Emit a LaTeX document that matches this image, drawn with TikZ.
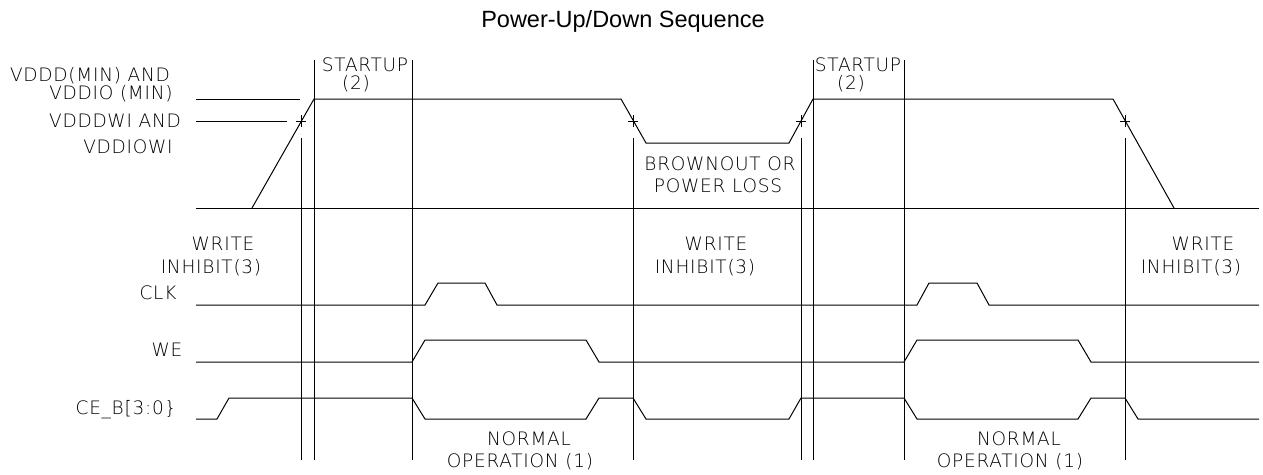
\documentclass[tikz,border=0pt]{standalone}
\usepackage{fontspec}
\setmainfont{Liberation Sans}
\IfFontExistsTF{DejaVu Sans ExtraLight}{\newfontfamily\cadfont[LetterSpace=4]{DejaVu Sans ExtraLight}}{\newfontfamily\cadfont{Liberation Sans}}
\begin{document}
\begin{tikzpicture}[x=1pt,y=-1pt,
  sig/.style={line width=1pt, line join=miter},
  vline/.style={line width=1pt},
  lab/.style={font=\cadfont\fontsize{18.5}{21}\selectfont, inner sep=0pt, text height=13.5pt, text depth=0pt, anchor=center},
  ttl/.style={font=\fontsize{23.5}{28}\selectfont, inner sep=0pt, text height=16pt, text depth=0pt, anchor=center}]
\useasboundingbox (0,0) rectangle (1263,474);
\node[ttl] (title) at (623,19) {Power-Up/Down Sequence};

% supply levels
\draw[sig] (196,99) -- (300,99);
\draw[sig] (196,121) -- (287,121);
\draw[sig] (196,208) -- (1259,208);
\draw[sig] (252,208) -- (314,99) -- (621,99) -- (646,143) -- (789,143) -- (813,99) -- (1113,99) -- (1174,208);
\foreach \cx in {301,633,801,1125}{
  \draw[sig] (\cx-5,121) -- (\cx+5,121) (\cx,115) -- (\cx,127);
  \draw[vline] (\cx,138) -- (\cx,460);
}
\foreach \cx in {314,412,813,904}{
  \draw[vline] (\cx,60) -- (\cx,460);
}

% CLK
\draw[sig] (196,305) -- (425,305) -- (438,283) -- (485,283) -- (497,305) -- (917,305) -- (929,283) -- (977,283) -- (989,305) -- (1259,305);
% WE
\draw[sig] (196,362) -- (412,362) -- (425,340) -- (586,340) -- (599,362) -- (904,362) -- (917,340) -- (1078,340) -- (1091,362) -- (1259,362);
% CE_B
\draw[sig] (196,419) -- (217,419) -- (229,398) -- (412,398) -- (425,419) -- (586,419) -- (599,398) -- (633,398) -- (646,419) -- (789,419) -- (801,398) -- (904,398) -- (917,419) -- (1078,419) -- (1091,398) -- (1125,398) -- (1138,419) -- (1259,419);

% labels
\node[lab] (l1) at (90,75) {VDDD(MIN) AND};
\node[lab] (l2) at (111,93) {VDDIO (MIN)};
\node[lab] (l3) at (115,121) {VDDDWI AND};
\node[lab] (l4) at (128,147) {VDDIOWI};
\node[lab] (s1) at (365,65) {STARTUP};
\node[lab] (s1b) at (356,83) {(2)};
\node[lab] (s2) at (858,65) {STARTUP};
\node[lab] (s2b) at (851,83) {(2)};
\node[lab] (b1) at (720,164) {BROWNOUT OR};
\node[lab] (b2) at (718,186) {POWER LOSS};
\node[lab] (w1) at (223,244) {WRITE};
\node[lab] (w1b) at (211,267) {INHIBIT(3)};
\node[lab] (w2) at (716,244) {WRITE};
\node[lab] (w2b) at (705,267) {INHIBIT(3)};
\node[lab] (w3) at (1203,244) {WRITE};
\node[lab] (w3b) at (1191,267) {INHIBIT(3)};
\node[lab] (clk) at (158,293) {CLK};
\node[lab] (we) at (167,350) {WE};
\node[lab] (ce) at (126,408) {CE\_B[3:0\}};
\node[lab] (n1) at (529,439) {NORMAL};
\node[lab] (n1b) at (520,461) {OPERATION (1)};
\node[lab] (n2) at (1019,439) {NORMAL};
\node[lab] (n2b) at (1010,461) {OPERATION (1)};
\end{tikzpicture}
\end{document}
